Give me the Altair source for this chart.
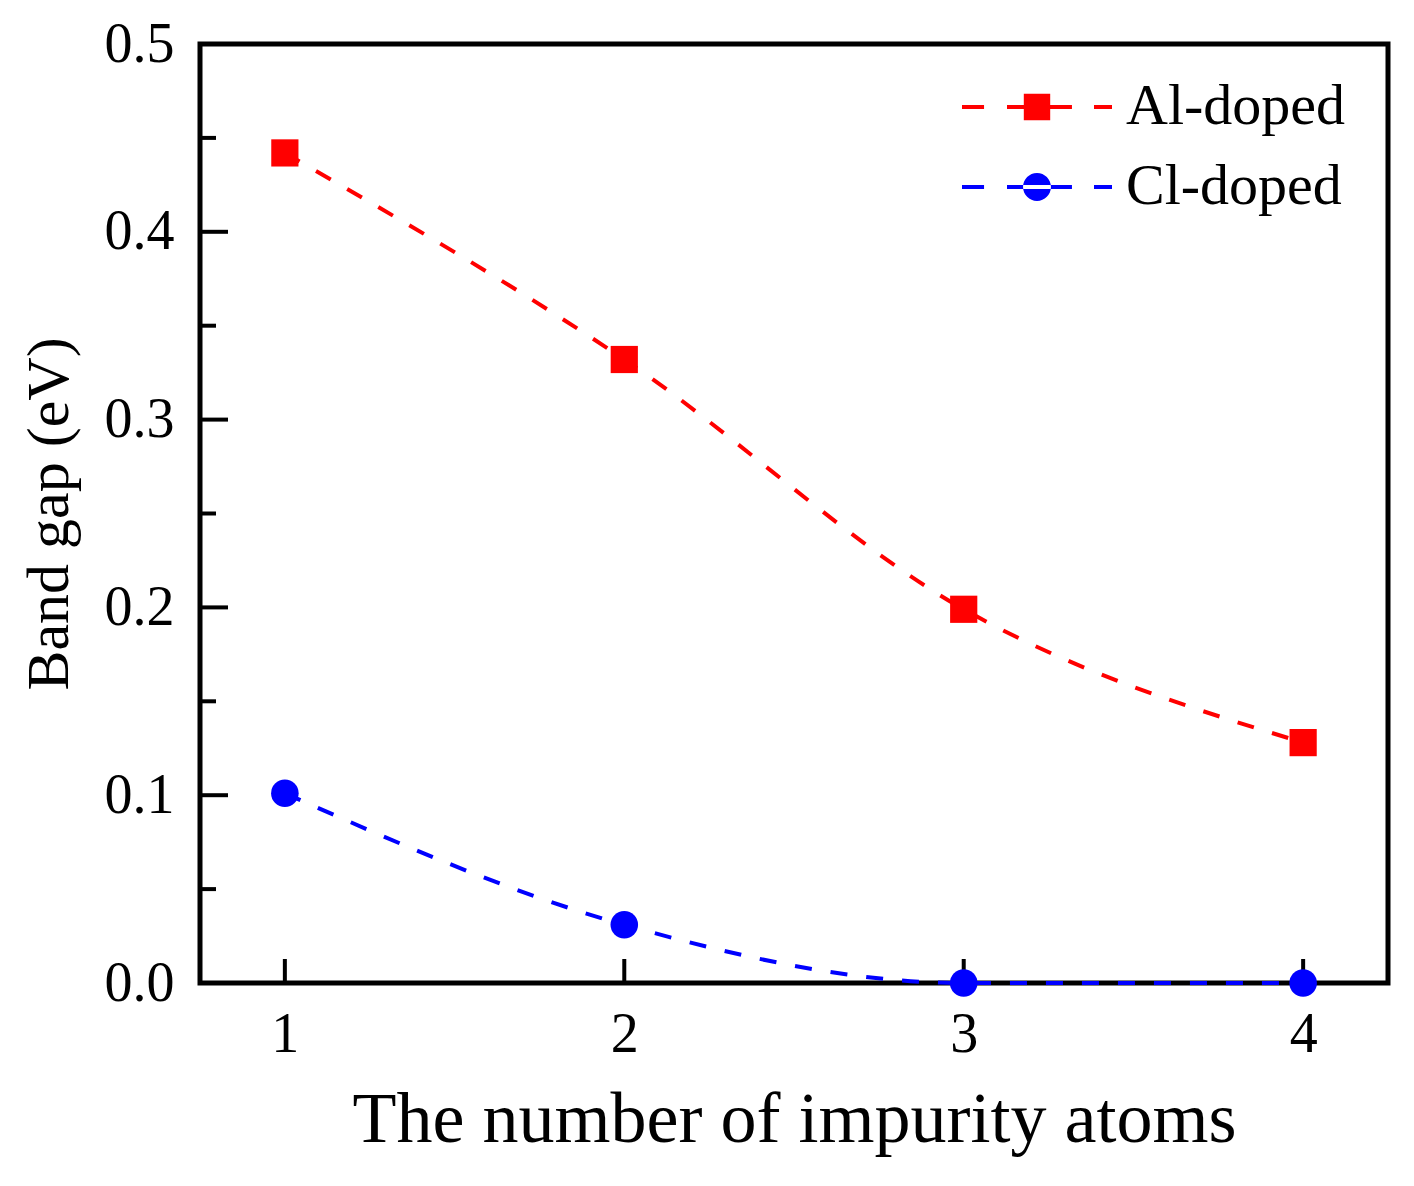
import altair as alt
import pandas as pd

# ---- data ----
atoms = [1, 2, 3, 4]
al_gap = [0.442, 0.332, 0.199, 0.128]
cl_gap = [0.101, 0.031, 0.0, 0.0]
series_names = ["Al-doped", "Cl-doped"]
series_colors = ["#ff0000", "#0000ff"]
y_major = [0.0, 0.1, 0.2, 0.3, 0.4, 0.5]
y_minor = [0.05, 0.15, 0.25, 0.35, 0.45]
x_major = [1, 2, 3, 4]

W, H = 1188, 939
FONT = "Liberation Serif"

df = pd.DataFrame({
    "atoms": atoms * 2,
    "gap": al_gap + cl_gap,
    "series": [series_names[0]] * 4 + [series_names[1]] * 4,
})

xscale = alt.Scale(domain=[0.75, 4.25], nice=False, zero=False)
yscale = alt.Scale(domain=[0, 0.5], nice=False, zero=False)

xax = alt.Axis(values=x_major, format="d", title="The number of impurity atoms",
               titleFontSize=72, titlePadding=22, labelPadding=24)
yax = alt.Axis(values=y_major, format=".1f", title="Band gap (eV)",
               titleFontSize=60, titlePadding=24, labelPadding=26)

X = alt.X("atoms:Q", scale=xscale, axis=xax)
Y = alt.Y("gap:Q", scale=yscale, axis=yax)

base = alt.Chart(df)


def series_line(i):
    return base.transform_filter(alt.datum.series == series_names[i]).mark_line(
        strokeDash=[17, 19], strokeWidth=4, interpolate="monotone", color=series_colors[i]
    ).encode(x=X, y=Y)


sq = base.transform_filter(alt.datum.series == series_names[0]).mark_square(
    size=740, opacity=1, color=series_colors[0]).encode(x=X, y=Y)
ci = base.transform_filter(alt.datum.series == series_names[1]).mark_circle(
    size=760, opacity=1, color=series_colors[1]).encode(x=X, y=Y)

# inward ticks
ymaj = alt.Chart(pd.DataFrame({"gap": y_major})).mark_rule(color="black", strokeWidth=4).encode(
    y=Y, x=alt.value(0), x2=alt.value(28))
ymin = alt.Chart(pd.DataFrame({"gap": y_minor})).mark_rule(color="black", strokeWidth=4).encode(
    y=Y, x=alt.value(0), x2=alt.value(16))
xmaj = alt.Chart(pd.DataFrame({"atoms": x_major})).mark_rule(color="black", strokeWidth=4).encode(
    x=X, y=alt.value(H), y2=alt.value(H - 24))

# legend symbols: dashed line (thin filled bars) with marker, units of 15 px
dash = ("M-5,-0.133H-3.53V0.133H-5Z"
        "M-2,-0.133H2.33V0.133H-2Z"
        "M3.8,-0.133H5V0.133H3.8Z")
sym_paths = [
    dash + "M-0.88,-0.88H0.88V0.88H-0.88Z",
    dash + "M-0.93,0A0.93,0.93,0,1,0,0.93,0A0.93,0.93,0,1,0,-0.93,0Z",
]
leg = alt.Legend(title=None, orient="none", legendX=808, legendY=34,
                 symbolSize=900, symbolStrokeWidth=0,
                 labelFont=FONT, labelFontSize=58, labelOffset=60,
                 rowPadding=22, padding=0, labelLimit=0)
leg_df = pd.DataFrame({"series": series_names})
legend_layer = alt.Chart(leg_df).mark_point(filled=True, opacity=1).encode(
    shape=alt.Shape("series:N", scale=alt.Scale(domain=series_names, range=sym_paths), legend=leg),
    color=alt.Color("series:N", scale=alt.Scale(domain=series_names, range=series_colors), legend=leg),
).transform_filter("false")

chart = alt.layer(ymaj, ymin, xmaj, series_line(0), series_line(1), sq, ci, legend_layer).properties(
    width=W, height=H, padding={"left": 11, "top": 8, "right": 5, "bottom": 5}
).configure_view(
    stroke="black", strokeWidth=5
).configure_axis(
    domain=False, ticks=False, grid=False,
    labelFont=FONT, labelFontSize=56, labelColor="black",
    titleFont=FONT, titleFontWeight="normal", titleColor="black",
    labelFlush=False, labelOverlap=False,
).configure_legend(
    labelColor="black"
)

chart.save("out.html", embed_options={"renderer": "svg", "actions": False})
